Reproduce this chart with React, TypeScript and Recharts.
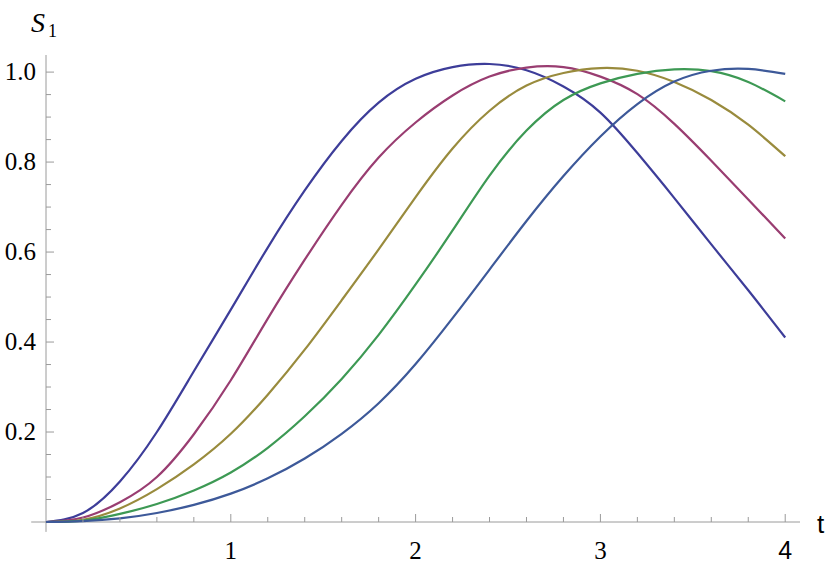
import { LineChart, Line, XAxis, YAxis, ReferenceLine } from 'recharts'

// time samples along the t axis
const tValues = [0, 0.2, 0.4, 0.6, 0.8, 1.0, 1.2, 1.4, 1.6, 1.8, 2.0, 2.2, 2.4, 2.6, 2.8, 3.0, 3.2, 3.4, 3.6, 3.8, 4.0]

// S1 curves (first = leftmost peak)
const s1First = [0, 0.02, 0.09, 0.2, 0.335, 0.472, 0.61, 0.737, 0.847, 0.932, 0.985, 1.011, 1.018, 1.004, 0.968, 0.91, 0.82, 0.72, 0.617, 0.515, 0.41]
const s1Second = [0, 0.01, 0.044, 0.1, 0.195, 0.315, 0.452, 0.583, 0.705, 0.81, 0.888, 0.948, 0.99, 1.01, 1.011, 0.99, 0.951, 0.885, 0.803, 0.717, 0.63]
const s1Third = [0, 0.005, 0.03, 0.073, 0.128, 0.196, 0.283, 0.383, 0.493, 0.606, 0.722, 0.83, 0.914, 0.97, 0.998, 1.009, 1.003, 0.978, 0.938, 0.883, 0.813]
const s1Fourth = [0, 0.003, 0.018, 0.04, 0.07, 0.11, 0.165, 0.235, 0.318, 0.416, 0.528, 0.648, 0.77, 0.87, 0.938, 0.975, 0.996, 1.006, 1.002, 0.978, 0.935]
const s1Fifth = [0, 0.002, 0.008, 0.02, 0.038, 0.063, 0.097, 0.141, 0.196, 0.264, 0.351, 0.453, 0.561, 0.669, 0.769, 0.857, 0.929, 0.979, 1.003, 1.007, 0.996]

const xTicks = [0.2, 0.4, 0.6, 0.8, 1, 1.2, 1.4, 1.6, 1.8, 2, 2.2, 2.4, 2.6, 2.8, 3, 3.2, 3.4, 3.6, 3.8, 4]
const xMajor = [1, 2, 3, 4]
const yTicks = [0.05, 0.1, 0.15, 0.2, 0.25, 0.3, 0.35, 0.4, 0.45, 0.5, 0.55, 0.6, 0.65, 0.7, 0.75, 0.8, 0.85, 0.9, 0.95, 1.0]
const yMajor = [0.2, 0.4, 0.6, 0.8, 1.0]

const series = [
  { key: 'a', values: s1First, color: '#3d3d99' },
  { key: 'b', values: s1Second, color: '#993d71' },
  { key: 'c', values: s1Third, color: '#998b3d' },
  { key: 'd', values: s1Fourth, color: '#3d9954' },
  { key: 'e', values: s1Fifth, color: '#3d5999' },
]

const chartData = tValues.map((t, i) => {
  const row: Record<string, number> = { t }
  series.forEach((s) => {
    row[s.key] = s.values[i]
  })
  return row
})

const axisGray = '#9a9a9a'
const serif = "'Liberation Serif', 'Times New Roman', Tinos, 'DejaVu Serif', Times, serif"
const sans = "'Liberation Sans', Arial, 'DejaVu Sans', sans-serif"

function XTick({ x, y, payload }: { x?: number; y?: number; payload?: { value: number } }) {
  const v = payload?.value ?? 0
  const major = xMajor.includes(v)
  return (
    <g>
      <line x1={x} y1={y} x2={x} y2={(y ?? 0) - (major ? 8 : 5)} stroke={axisGray} strokeWidth={1} />
      {major && (
        <text x={x} y={(y ?? 0) + 37} textAnchor="middle" fontSize={25} fontFamily={v === 4 ? sans : serif} fill="#000">
          {v}
        </text>
      )}
    </g>
  )
}

function YTick({ x, y, payload }: { x?: number; y?: number; payload?: { value: number } }) {
  const v = payload?.value ?? 0
  const major = yMajor.includes(v)
  return (
    <g>
      <line x1={x} y1={y} x2={(x ?? 0) + (major ? 8 : 5)} y2={y} stroke={axisGray} strokeWidth={1} />
      {major && (
        <text x={(x ?? 0) - 10} y={(y ?? 0) + 8} textAnchor="end" fontSize={25} fontFamily={serif} fill="#000">
          {v.toFixed(1)}
        </text>
      )}
    </g>
  )
}

export default function App() {
  return (
    <div style={{ position: 'absolute', left: 0, top: 0, width: 830, height: 568, background: '#fff', fontFamily: serif }}>
      <LineChart width={830} height={568} data={chartData} margin={{ top: 55, right: 30, bottom: 0, left: 0 }}>
        <XAxis
          dataKey="t"
          type="number"
          domain={[0, 4.08]}
          ticks={xTicks}
          interval={0}
          axisLine={false}
          tickLine={false}
          tickSize={0}
          tickMargin={0}
          height={46}
          tick={<XTick />}
        />
        <YAxis
          type="number"
          domain={[0, 1.038]}
          ticks={yTicks}
          interval={0}
          axisLine={false}
          tickLine={false}
          tickSize={0}
          tickMargin={0}
          width={46}
          tick={<YTick />}
        />
        <ReferenceLine
          segment={[{ x: -0.08, y: 0 }, { x: 4.08, y: 0 }]}
          ifOverflow="visible"
          stroke={axisGray}
          strokeWidth={1}
        />
        <ReferenceLine
          segment={[{ x: 0, y: -0.022 }, { x: 0, y: 1.038 }]}
          ifOverflow="visible"
          stroke={axisGray}
          strokeWidth={1}
        />
        {series.map((s) => (
          <Line
            key={s.key}
            type="natural"
            dataKey={s.key}
            stroke={s.color}
            strokeWidth={2.2}
            dot={false}
            isAnimationActive={false}
          />
        ))}
      </LineChart>
      <svg width={830} height={568} style={{ position: 'absolute', left: 0, top: 0, pointerEvents: 'none' }}>
        <text x={31} y={32} fontSize={28} fontStyle="italic" fontFamily={serif} fill="#000">
          S
        </text>
        <text x={48} y={37} fontSize={18} fontFamily={serif} fill="#000">
          1
        </text>
        <text x={817} y={533} fontSize={26} fontFamily={sans} fill="#000">
          t
        </text>
      </svg>
    </div>
  )
}
